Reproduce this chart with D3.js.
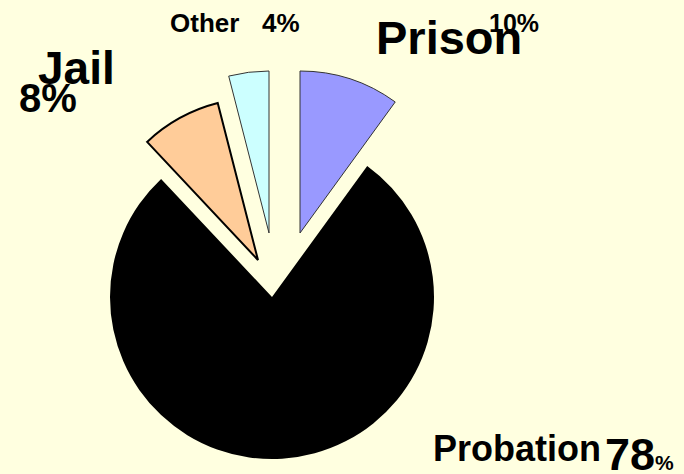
<!DOCTYPE html>
<html>
<head>
<meta charset="utf-8">
<script src="https://cdn.jsdelivr.net/npm/d3@7"></script>
<style>
  html, body { margin: 0; padding: 0; background: #FFFFE0; }
  svg { display: block; }
  text { font-family: "Liberation Sans", Arial, sans-serif; font-weight: bold; fill: #000; }
</style>
</head>
<body>
<svg id="chart" width="684" height="474"></svg>
<script>
// Share of offenders by placement
const categories = ["Prison", "Probation", "Jail", "Other"];
const shares = [10, 78, 8, 4];
const colors = ["#9999FF", "#000000", "#FFCC99", "#CCFFFF"];

// Layout: pie centre, radius, per-slice pull-out and label placement
const W = 684, H = 474;
const cx = 272, cy = 297, radius = 162;
const explode = {
  Prison:    [28, -64],
  Probation: [0, 0],
  Jail:      [-14, -37],
  Other:     [-3, -64]
};
const strokes = {
  Prison:    { color: "#333", width: 1 },
  Probation: { color: "none", width: 0 },
  Jail:      { color: "#000", width: 2 },
  Other:     { color: "#333", width: 1 }
};
// name label / value label: [x, y, font-size]
const labelStyle = {
  Prison:    { name: [376, 54, 47], value: [489, 32, 25] },
  Probation: { name: [433, 461, 36], value: [605, 470, 45], pct: 21 },
  Jail:      { name: [38, 84, 46], value: [19, 112, 40] },
  Other:     { name: [170, 32, 26], value: [262, 32, 26] }
};

const svg = d3.select("#chart");
svg.append("rect").attr("width", W).attr("height", H).attr("fill", "#FFFFE0");

const pie = d3.pie().sort(null).startAngle(0).endAngle(2 * Math.PI).value(d => d.value);
const arc = d3.arc().innerRadius(0).outerRadius(radius);
const data = categories.map((c, i) => ({ name: c, value: shares[i], color: colors[i] }));
const arcs = pie(data);

const g = svg.append("g").attr("transform", `translate(${cx},${cy})`);
g.selectAll("path.slice")
  .data(arcs)
  .join("path")
  .attr("class", "slice")
  .attr("d", arc)
  .attr("transform", d => `translate(${explode[d.data.name][0]},${explode[d.data.name][1]})`)
  .attr("fill", d => d.data.color)
  .attr("stroke", d => strokes[d.data.name].color)
  .attr("stroke-width", d => strokes[d.data.name].width)
  .attr("stroke-linejoin", "miter");

// Labels: category name and percentage
const labels = svg.append("g");
arcs.forEach(d => {
  const s = labelStyle[d.data.name];
  labels.append("text")
    .attr("x", s.name[0]).attr("y", s.name[1])
    .attr("font-size", s.name[2])
    .text(d.data.name);
  if (s.pct) {
    const t = labels.append("text")
      .attr("x", s.value[0]).attr("y", s.value[1])
      .attr("font-size", s.value[2]);
    t.append("tspan").text(d.data.value);
    t.append("tspan").attr("font-size", s.pct).text("%");
  } else {
    labels.append("text")
      .attr("x", s.value[0]).attr("y", s.value[1])
      .attr("font-size", s.value[2])
      .text(d.data.value + "%");
  }
});
</script>
</body>
</html>
